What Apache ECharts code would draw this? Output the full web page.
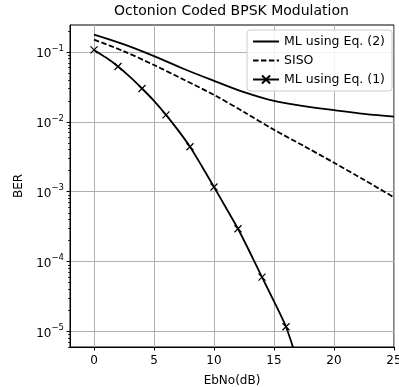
<!DOCTYPE html>
<html>
<head>
<meta charset="utf-8">
<script src="https://cdn.jsdelivr.net/npm/echarts@6/dist/echarts.min.js"></script>
<style>
  html, body { margin: 0; padding: 0; background: #fff; }
  #chart { width: 399px; height: 387px; }
</style>
</head>
<body>
<div id="chart"></div>
<script>
// values
var xTicks = [0, 5, 10, 15, 20, 25];
var yTicks = [1e-5, 1e-4, 1e-3, 1e-2, 1e-1];

var eq2X = [0, 2.5, 5, 7.5, 10, 12.5, 15, 17.5, 20, 22.5, 25];
var eq2Y = [0.177, 0.128, 0.087, 0.057, 0.0386, 0.0266, 0.0199, 0.0168, 0.0147, 0.013, 0.0119];

var sisoX = [0, 2.5, 5, 7.5, 10, 12.5, 15, 17.5, 20, 22.5, 25];
var sisoY = [0.15, 0.102, 0.065, 0.04, 0.0243, 0.0138, 0.0077, 0.0045, 0.0026, 0.00148, 0.00083];

var eq1X = [0, 1, 2, 3, 4, 5, 6, 7, 8, 9, 10, 11, 12, 13, 14, 15, 16, 17];
var eq1Y = [0.107, 0.083, 0.062, 0.044, 0.030, 0.020, 0.0126, 0.0076, 0.0044, 0.0023,
            0.00117, 0.00059, 0.000295, 0.000135, 0.00006, 0.000027, 0.0000117, 0.0000036];
var eq1Marked = [0, 2, 4, 6, 8, 10, 12, 14, 16];

var minorTicks = [];
for (var k = -6; k <= -1; k++) {
  for (var m = 2; m <= 9; m++) minorTicks.push(m * Math.pow(10, k));
}

function pairs(xs, ys) {
  return xs.map(function (x, i) { return [x, ys[i]]; });
}

var font = 'DejaVu Sans';
// invisible symbol so the legend only shows the line
var hiddenItem = { color: 'rgba(0,0,0,0)', borderWidth: 0 };

var chart = echarts.init(document.getElementById('chart'), null, { renderer: 'canvas' });

var option = {
  backgroundColor: '#fff',
  animation: false,
  textStyle: { fontFamily: font },
  title: {
    text: 'Octonion Coded BPSK Modulation',
    left: 114,
    top: 4,
    padding: 0,
    textStyle: { fontFamily: font, fontSize: 14, fontWeight: 'normal', color: '#000' }
  },
  grid: {
    left: 70, right: 5, top: 25, bottom: 40,
    show: true, borderColor: '#000', borderWidth: 1,
    containLabel: false,
    outerBoundsMode: 'none'
  },
  legend: {
    orient: 'vertical',
    right: 7,
    top: 30,
    itemWidth: 26,
    itemHeight: 10,
    itemGap: 6,
    padding: [5, 7, 5, 5],
    backgroundColor: 'rgba(255,255,255,0.85)',
    borderColor: '#cccccc',
    borderWidth: 1,
    borderRadius: 3,
    textStyle: { fontFamily: font, fontSize: 12.5, color: '#000' },
    data: ['ML using Eq. (2)', 'SISO', 'ML using Eq. (1)']
  },
  xAxis: {
    type: 'value',
    min: -2,
    max: 25,
    name: 'EbNo(dB)',
    nameLocation: 'middle',
    nameGap: 28,
    nameTextStyle: { fontFamily: font, fontSize: 12, color: '#000' },
    axisLine: { show: true, onZero: false, lineStyle: { color: '#000', width: 1 } },
    axisTick: { show: true, length: 3.5, customValues: xTicks, lineStyle: { color: '#000' } },
    axisLabel: { customValues: xTicks, fontFamily: font, fontSize: 12, color: '#000', margin: 8 },
    splitLine: { show: true, lineStyle: { color: '#b0b0b0', width: 1 } }
  },
  yAxis: [
    {
      type: 'log',
      logBase: 10,
      min: 6e-6,
      max: 0.243,
      name: 'BER',
      nameLocation: 'middle',
      nameGap: 40,
      nameTextStyle: { fontFamily: font, fontSize: 12, color: '#000' },
      axisLine: { show: true, onZero: false, lineStyle: { color: '#000', width: 1 } },
      axisTick: { show: true, length: 3.5, customValues: yTicks, lineStyle: { color: '#000' } },
      axisLabel: {
        customValues: yTicks,
        margin: 6,
        color: '#000',
        formatter: function (v) {
          var e = Math.round(Math.log10(v));
          return '{b|10}{s|' + String(e).replace('-', '\u2212') + '}';
        },
        rich: {
          b: { fontFamily: font, fontSize: 12, color: '#000', lineHeight: 16, verticalAlign: 'bottom' },
          s: { fontFamily: font, fontSize: 8.5, color: '#000', lineHeight: 16, verticalAlign: 'top', padding: [0, 0, 4, 0] }
        }
      },
      splitLine: { show: true, lineStyle: { color: '#b0b0b0', width: 1 } }
    },
    {
      type: 'log',
      logBase: 10,
      min: 6e-6,
      max: 0.243,
      position: 'left',
      axisLine: { show: false, onZero: false },
      axisTick: { show: true, length: 2, customValues: minorTicks, lineStyle: { color: '#000', width: 0.8 } },
      axisLabel: { show: false },
      splitLine: { show: false }
    }
  ],
  series: [
    {
      name: 'ML using Eq. (2)',
      type: 'line',
      data: pairs(eq2X, eq2Y),
      smooth: 0.4,
      symbol: 'circle',
      showSymbol: false,
      lineStyle: { color: '#000', width: 1.8 },
      itemStyle: hiddenItem
    },
    {
      name: 'SISO',
      type: 'line',
      data: pairs(sisoX, sisoY),
      smooth: 0.3,
      symbol: 'circle',
      showSymbol: false,
      lineStyle: { color: '#000', width: 1.8, type: [5.5, 2.4] },
      itemStyle: hiddenItem
    },
    {
      name: 'ML using Eq. (1)',
      type: 'line',
      clip: true,
      data: eq1X.map(function (x, i) {
        var item = { value: [x, eq1Y[i]] };
        if (eq1Marked.indexOf(x) < 0) item.symbol = 'none';
        return item;
      }),
      smooth: 0.2,
      symbol: 'path://M0,0L10,10M10,0L0,10',
      symbolSize: 7,
      lineStyle: { color: '#000', width: 1.8 },
      itemStyle: { color: '#000', borderColor: '#000', borderWidth: 1.2 }
    }
  ]
};

chart.setOption(option);
</script>
</body>
</html>
